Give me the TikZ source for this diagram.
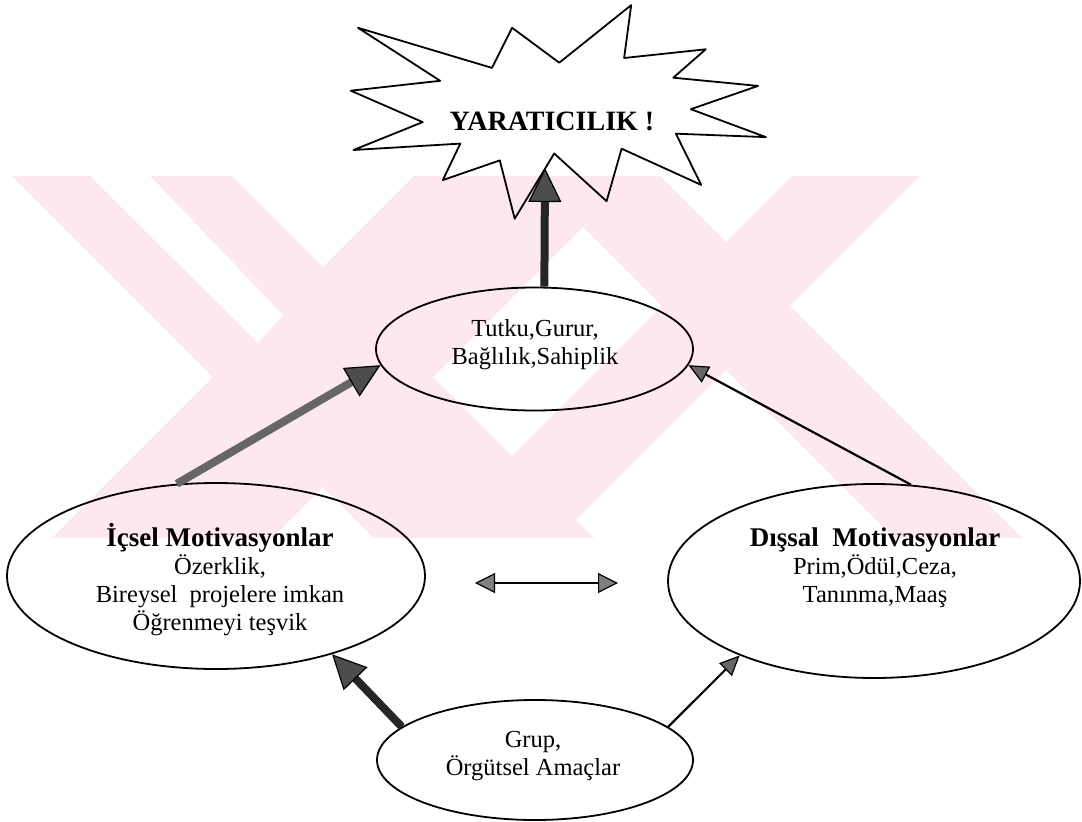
\documentclass[tikz,border=0pt]{standalone}
\usepackage{fontspec}
\setmainfont{Liberation Serif}
\usetikzlibrary{arrows.meta,shapes.geometric}
\definecolor{wm}{RGB}{253,233,237}
\newcommand{\ttl}[1]{{\fontsize{27}{28}\selectfont\bfseries #1}}
\begin{document}
\begin{tikzpicture}[x=1pt,y=-1pt,
  ell/.style={draw, ellipse, line width=1.8pt, inner sep=0pt},
  txt/.style={align=center, inner sep=0pt, font=\fontsize{24.5}{28}\selectfont},
  burst/.style={draw, line width=1.8pt, line join=round},
  thinarrow/.style={line width=2.2pt, -{Triangle[length=20pt,width=18pt,line width=1.2pt,color=black,fill=black!60]}},
  dblarrow/.style={line width=2pt, {Triangle[length=20pt,width=20pt,line width=1.2pt,color=black,fill=black!50]}-{Triangle[length=20pt,width=20pt,line width=1.2pt,color=black,fill=black!50]}},
  thickdark/.style={line width=8pt, draw=black!85, -{Triangle[length=34pt,width=33pt,line width=1.2pt,color=black,fill=black!70]}},
  thickgray/.style={line width=8pt, draw=black!60, -{Triangle[length=34pt,width=33pt,line width=1.2pt,color=black,fill=black!70]}}
]
\useasboundingbox (0,0) rectangle (1082,822);
% watermark
\begin{scope}
  \clip (0,176) rectangle (1082,538);
  \fill[wm] (12,176) -- (232,176) -- (594,538) -- (374,538) -- cycle;
  \fill[wm] (414,176) -- (634,176) -- (272,538) -- (52,538) -- cycle;
  \fill[wm] (532,176) -- (660,176) -- (1022,538) -- (894,538) -- cycle;
  \fill[wm] (792,176) -- (920,176) -- (558,538) -- (430,538) -- cycle;
  \fill[white] (90,176) -- (150,176) -- (283,315) -- (258,343) -- cycle;
\end{scope}
% starburst (explosion shape)
\draw[burst] (559.3,62.7) -- (512.1,27.8) -- (492.0,67.9) -- (358.0,27.8)
  -- (440.2,80.8) -- (350.8,90.7) -- (422.7,122.1) -- (353.5,150.0)
  -- (460.3,143.6) -- (442.8,180.1) -- (499.8,160.4) -- (514.7,218.7)
  -- (554.2,153.5) -- (606.6,201.2) -- (621.6,148.7) -- (701.2,184.9)
  -- (675.9,133.7) -- (765.9,137.1) -- (690.8,109.2) -- (758.1,85.9)
  -- (673.3,77.7) -- (705.7,49.3) -- (624.1,58.0) -- (631.2,5.1) -- cycle;
\node[txt, font=\fontsize{28}{30}\selectfont\bfseries] (yar) at (552,121) {YARATICILIK !};
\coordinate (burstbot) at (545,168);
% ellipses
\node[ell, minimum width=317pt, minimum height=123pt] (tutku) at (534.5,349) {};
\node[ell, minimum width=418pt, minimum height=186pt] (icsel) at (216,576) {};
\node[ell, minimum width=412pt, minimum height=194pt] (dis) at (874,581) {};
\node[ell, minimum width=316pt, minimum height=120pt] (grup) at (535,760) {};
% texts
\node[txt] (tutkut) at (535,345) {Tutku,Gurur,\\Bağlılık,Sahiplik};
\node[txt] (icselt) at (220,580) {\ttl{İçsel Motivasyonlar}\\Özerklik,\\Bireysel\ \ projelere imkan\\Öğrenmeyi teşvik};
\node[txt] (dist) at (875,568) {\ttl{Dışsal\ \ Motivasyonlar}\\Prim,Ödül,Ceza,\\Tanınma,Maaş};
\node[txt] (grupt) at (533,756) {Grup,\\Örgütsel Amaçlar};
% connectors
\coordinate (dl) at (475,583);
\coordinate (dr) at (618,583);
\draw[thickdark] (tutku.81) -- (burstbot);
\draw[thickgray] (icsel.113) -- (tutku.186);
\draw[thinarrow] (dis.69) -- (tutku.-6);
\draw[dblarrow] (dl) -- (dr);
\draw[thickdark] (grup.166) -- (icsel.-34);
\draw[thinarrow] (grup.14) -- (dis.209);
\end{tikzpicture}
\end{document}
